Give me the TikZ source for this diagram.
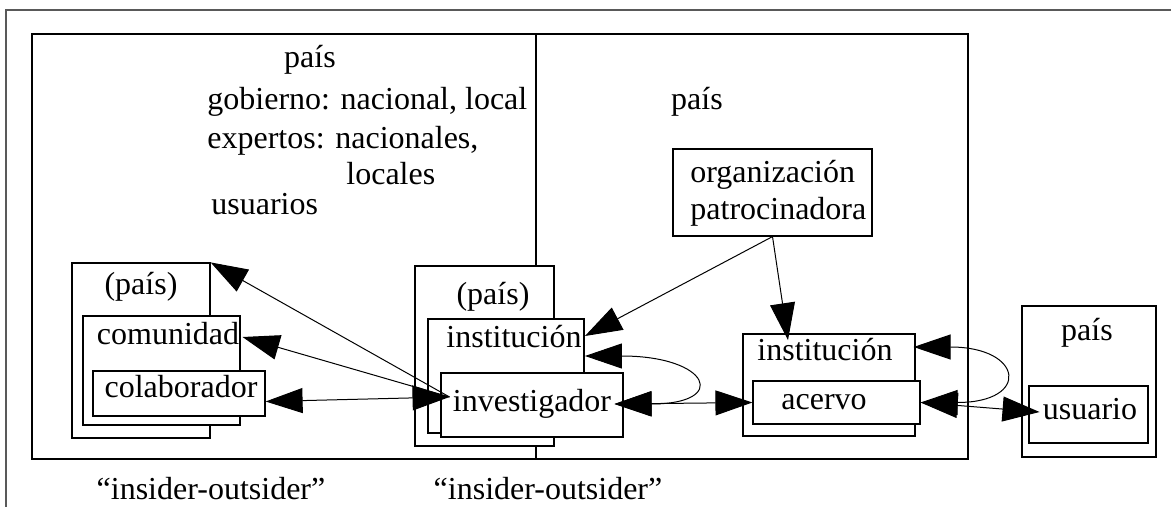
\documentclass[tikz,border=0pt]{standalone}
\usepackage{fontspec}
\setmainfont{Liberation Serif}
\usetikzlibrary{positioning,fit,calc,arrows.meta}

\begin{document}
\begin{tikzpicture}[x=0.5pt,y=-0.5pt,
	box/.style={draw,fill=white,inner sep=0pt,line width=0.6pt,fit={#1}},
	txt/.style={inner sep=1.5pt,font=\fontsize{16}{19}\selectfont,text height=11pt,text depth=3.5pt},
	con/.style={line width=0.5pt,{Triangle[length=18.5pt,width=12.5pt]}-{Triangle[length=18.5pt,width=12.5pt]}},
	one/.style={line width=0.5pt,-{Triangle[length=18.5pt,width=12.5pt]}}]

\useasboundingbox (0,0) rectangle (1171,507);
\draw[black!65,line width=1pt] (1171,10) -- (6,10) -- (6,507);

\node[box={(32,34) (536,459)}] (paisL) {};
\node[box={(536,34) (968,459)}] (paisR) {};

\foreach \n/\xa/\ya/\xb/\yb in {paisA/72/263/210/438,comB/83/316/240/425,colB/93/371/265/416,
	paisB/415/266/554/446,instB/428/319/584/433,invB/441/373/623/437,
	instRB/743/334/915/436,acB/753/381/920/424,orgB/673/149/872/236,
	paisU/1022/306/1156/457,usuB/1029/386/1148/443}
	\node[box={(\xa,\ya) (\xb,\yb)}] (\n) {};

\foreach \n/\x/\y/\t in {paisLT/310/60/país,paisRT/697/102/país,paisAT/141/287/(país),
	comT/168/337/comunidad,colT/181/390/colaborador,paisBT/493/297/(país),
	instT/514/340/institución,invT/532/404/investigador,instRT/825/353/institución,
	acT/824/402/acervo,paisUT/1087/333/país,usuT/1090/412/usuario,
	io1/211/492/“insider-outsider”,io2/548/492/“insider-outsider”}
	\node[txt] (\n) at (\x,\y) {\t};

\node[txt,anchor=west] (gob) at (204,102) {gobierno: nacional, local};
\node[txt,anchor=west] (exp) at (204,141) {expertos: nacionales,};
\node[txt,anchor=west] (loc) at (343,177) {locales};
\node[txt,anchor=west] (usu) at (208,207) {usuarios};
\node[txt,anchor=west] (org1) at (687,175) {organización};
\node[txt,anchor=west] (org2) at (687,212) {patrocinadora};

\draw[con] ([yshift=-4pt]colB.east) -- ([yshift=3.5pt]invT.west);
\draw[one] ([yshift=3.5pt]invT.west) -- (comT.east);
\draw[one] ([yshift=3.5pt]invT.west) -- (paisA.north east);
\draw[one] (orgB.south) -- ([yshift=2pt]instT.east);
\draw[one] (orgB.south) -- ($(instRT.north)+(-37,5)$);
\draw[con] (invT.east) -- (acB.west);
\draw[con] (invT.east) .. controls +(115,0) and +(125,0) .. ([yshift=-8pt]instT.east);
\draw[con] (acB.east) -- (usuT.west);
\draw[con] (acB.east) .. controls +(110,0) and +(110,0) .. ($(instRB.east)+(-2,-38)$);
\end{tikzpicture}
\end{document}
